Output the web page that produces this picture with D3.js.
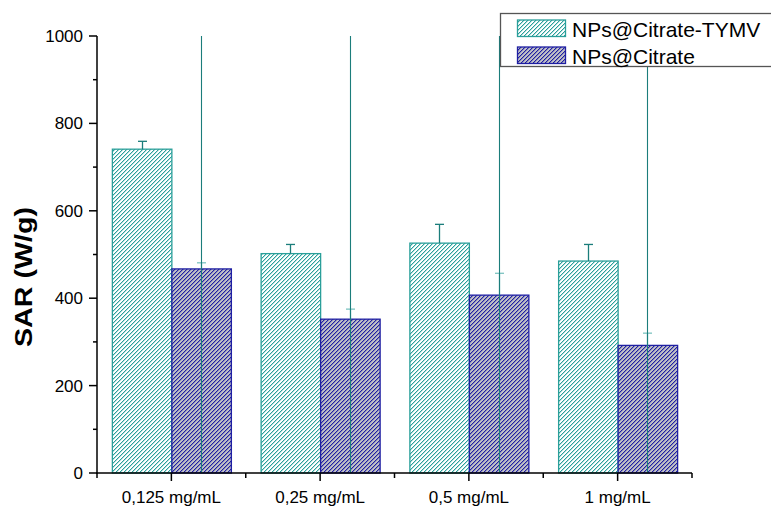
<!DOCTYPE html>
<html>
<head>
<meta charset="utf-8">
<script src="https://cdn.jsdelivr.net/npm/d3@7"></script>
<style>
  html, body { margin: 0; padding: 0; background: #fff; }
  svg { display: block; font-family: "Liberation Sans", Arial, sans-serif; }
</style>
</head>
<body>
<svg id="chart" width="771" height="507"></svg>
<script>
const categories = ["0,125 mg/mL", "0,25 mg/mL", "0,5 mg/mL", "1 mg/mL"];
const seriesNames = ["NPs@Citrate-TYMV", "NPs@Citrate"];
const tymvValues = [741, 502, 526, 485];
const tymvErrors = [18, 21, 43, 38];
const citrateValues = [467, 352, 407, 292];
const citrateErrors = [14, 23, 50, 28];
const yTicks = [0, 200, 400, 600, 800, 1000];
const yMinorTicks = [100, 300, 500, 700, 900];
const yTitle = "SAR (W/g)";

const svg = d3.select("#chart");
const teal = "#2a9f9a";
const tealDark = "#1b7d7b";
const tealLight = "#7cc3c0";
const blue = "#1f1fa3";

const x = d3.scaleBand().domain(categories).range([97, 692]).padding(0);
const y = d3.scaleLinear().domain([0, 1000]).range([473, 36]);
const barW = x.bandwidth() * 0.4;

// pixel-aligned diagonal hatch patterns
const defs = svg.append("defs");
function hatch(id, bg, color) {
  const p = defs.append("pattern").attr("id", id)
    .attr("patternUnits", "userSpaceOnUse").attr("width", 4).attr("height", 4);
  p.append("rect").attr("width", 4).attr("height", 4).attr("fill", bg);
  d3.range(4).forEach(r => {
    p.append("rect").attr("x", 3 - r).attr("y", r).attr("width", 1).attr("height", 1)
      .attr("fill", color).attr("shape-rendering", "crispEdges");
    p.append("rect").attr("x", (4 - r) % 4).attr("y", r).attr("width", 1).attr("height", 1)
      .attr("fill", color).attr("opacity", 0.35).attr("shape-rendering", "crispEdges");
  });
}
hatch("hTeal", "#ffffff", teal);
hatch("hBlue", "#c0c0c6", blue);

const series = [
  { name: seriesNames[0], values: tymvValues, errors: tymvErrors, fill: "url(#hTeal)", stroke: teal, offset: -1, errColor: tealDark },
  { name: seriesNames[1], values: citrateValues, errors: citrateErrors, fill: "url(#hBlue)", stroke: blue, offset: 0, errColor: tealLight }
];

// bars
series.forEach(s => {
  svg.append("g").selectAll("rect").data(categories).join("rect")
    .attr("x", (c) => x(c) + x.bandwidth() / 2 + s.offset * barW + 0.5)
    .attr("y", (c, i) => y(s.values[i]))
    .attr("width", barW)
    .attr("height", (c, i) => y(0) - y(s.values[i]))
    .attr("fill", s.fill)
    .attr("stroke", s.stroke)
    .attr("stroke-width", 1.3);
});

// error bars
series.forEach(s => {
  const g = svg.append("g").attr("stroke", s.errColor).attr("stroke-width", 1.3);
  categories.forEach((c, i) => {
    const cx = Math.round(x(c) + x.bandwidth() / 2 + s.offset * barW + barW / 2) + 0.5;
    const top = y(s.values[i] + s.errors[i]);
    g.append("line").attr("x1", cx).attr("x2", cx).attr("y1", y(s.values[i])).attr("y2", top);
    g.append("line").attr("x1", cx - 4.5).attr("x2", cx + 4.5).attr("y1", top).attr("y2", top);
  });
});

// long vertical lines through the second bar of each group
svg.append("g").selectAll("line").data(categories).join("line")
  .attr("x1", c => Math.round(x(c) + x.bandwidth() / 2 + barW / 2) + 0.5)
  .attr("x2", c => Math.round(x(c) + x.bandwidth() / 2 + barW / 2) + 0.5)
  .attr("y1", y(1000)).attr("y2", y(0))
  .attr("stroke", tealDark).attr("stroke-width", 1.1);

// axes
const axisG = svg.append("g").attr("stroke", "#000").attr("stroke-width", 1.5);
axisG.append("line").attr("x1", 97).attr("x2", 97).attr("y1", y(1000)).attr("y2", y(0) + 0.75);
axisG.append("line").attr("x1", 96.25).attr("x2", 692).attr("y1", y(0)).attr("y2", y(0));
yTicks.forEach(t => axisG.append("line").attr("x1", 89).attr("x2", 97).attr("y1", y(t)).attr("y2", y(t)));
yMinorTicks.forEach(t => axisG.append("line").attr("x1", 93).attr("x2", 97).attr("y1", y(t)).attr("y2", y(t)));
categories.forEach(c => {
  const cx = x(c) + x.bandwidth() / 2;
  axisG.append("line").attr("x1", cx).attr("x2", cx).attr("y1", y(0)).attr("y2", y(0) + 8);
});
const edges = categories.map(c => x(c)).concat([x.range()[1]]);
edges.forEach(e => axisG.append("line").attr("x1", e).attr("x2", e).attr("y1", y(0)).attr("y2", y(0) + 5));

// tick labels
svg.append("g").selectAll("text").data(yTicks).join("text")
  .attr("x", 83).attr("y", d => y(d) + 6)
  .attr("text-anchor", "end").attr("font-size", 17).attr("fill", "#000")
  .text(d => d);
svg.append("g").selectAll("text").data(categories).join("text")
  .attr("x", c => x(c) + x.bandwidth() / 2).attr("y", 503)
  .attr("text-anchor", "middle").attr("font-size", 17).attr("fill", "#000")
  .text(c => c);

// y title
svg.append("text")
  .attr("transform", "translate(32,277) rotate(-90)")
  .attr("text-anchor", "middle").attr("font-size", 24).attr("font-weight", "bold")
  .attr("textLength", 140).attr("lengthAdjust", "spacingAndGlyphs")
  .text(yTitle);

// legend
const leg = svg.append("g");
leg.append("rect").attr("x", 500.5).attr("y", 13.5).attr("width", 275).attr("height", 53)
  .attr("fill", "#fff").attr("stroke", "#555").attr("stroke-width", 1.3);
series.forEach((s, i) => {
  const top = 20 + i * 27;
  leg.append("rect").attr("x", 517.5).attr("y", top).attr("width", 48).attr("height", 16.5)
    .attr("fill", s.fill).attr("stroke", s.stroke).attr("stroke-width", 1.3);
  leg.append("text").attr("x", 572).attr("y", top + 16.5)
    .attr("font-size", 21).attr("fill", "#000").text(s.name);
});
</script>
</body>
</html>
